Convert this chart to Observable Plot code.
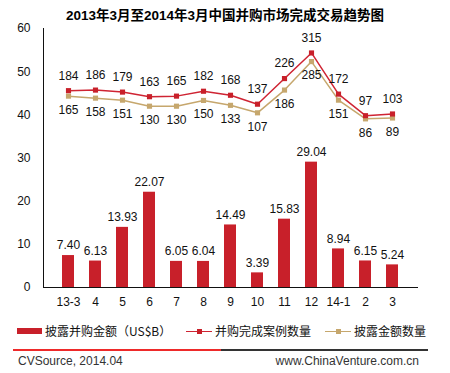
<!DOCTYPE html>
<html>
<head>
<meta charset="utf-8">
<script src="https://cdn.jsdelivr.net/npm/d3@7"></script>
<script src="https://cdn.jsdelivr.net/npm/@observablehq/plot@0.6"></script>
<style>
  html, body { margin: 0; padding: 0; background: #fff; }
  #wrap { position: relative; width: 450px; height: 373px; overflow: hidden; font-family: "Liberation Sans", Arial, "Noto Sans CJK SC", sans-serif; }
  .abs { position: absolute; white-space: nowrap; line-height: 1; }
  #title { left: 0; width: 450px; text-align: center; top: 9px; font-family: "Liberation Sans", "Noto Sans CJK SC", sans-serif; font-weight: bold; font-size: 13.5px; color: #000; }
  #chart { position: absolute; left: 0; top: 22px; }
  .leg { font-family: "Noto Sans CJK SC", sans-serif; font-size: 12px; color: #111; top: 325px; }
</style>
</head>
<body>
<div id="wrap">
  <div id="title" class="abs">2013年3月至2014年3月中国并购市场完成交易趋势图</div>
  <div id="chart"></div>
  <div id="legend"></div>
  <div id="footer"></div>
</div>
<script>
// ---- data ----
const months = ["13-3", "4", "5", "6", "7", "8", "9", "10", "11", "12", "14-1", "2", "3"];
const amounts = [7.40, 6.13, 13.93, 22.07, 6.05, 6.04, 14.49, 3.39, 15.83, 29.04, 8.94, 6.15, 5.24];
const dealCounts = [184, 186, 179, 163, 165, 182, 168, 137, 226, 315, 172, 97, 103];
const disclosedCounts = [165, 158, 151, 130, 130, 150, 133, 107, 186, 285, 151, 86, 89];
const yTicks = [0, 10, 20, 30, 40, 50, 60];
const primaryDomain = [0, 60];
const secondaryDomain = [-500, 400]; // hidden secondary axis for the two count series
const seriesNames = ["披露并购金额（US$B）", "并购完成案例数量", "披露金额数量"];

const BAR = "#C8202A", RED = "#CF2433", TAN = "#C6A76D";

const data = months.map((m, i) => ({month: m, amount: amounts[i], deals: dealCounts[i], disclosed: disclosedCounts[i]}));
const sec = d3.scaleLinear(secondaryDomain, primaryDomain);

const chart = Plot.plot({
  width: 450,
  height: 290,
  marginTop: 6,
  marginLeft: 43,
  marginRight: 33,
  marginBottom: 25,
  style: {fontFamily: "'Liberation Sans', Arial, sans-serif", fontSize: "12px", color: "#111", background: "transparent", overflow: "visible"},
  x: {domain: months, padding: 0.57, label: null, tickSize: 0, tickPadding: 10, line: true},
  y: {domain: primaryDomain, ticks: yTicks, label: null, tickSize: 0, tickPadding: 13, line: true},
  marks: [
    Plot.barY(data, {x: "month", y: "amount", fill: BAR}),
    Plot.text(data, {x: "month", y: "amount", text: d => d.amount.toFixed(2), dy: -10, fontSize: 12, fill: "#111"}),
    Plot.line(data, {x: "month", y: d => sec(d.disclosed), stroke: TAN, strokeWidth: 1.5}),
    Plot.line(data, {x: "month", y: d => sec(d.deals), stroke: RED, strokeWidth: 1.5}),
    Plot.dot(data, {x: "month", y: d => sec(d.disclosed), symbol: "square", r: 2.9, fill: TAN}),
    Plot.dot(data, {x: "month", y: d => sec(d.deals), symbol: "square", r: 2.9, fill: "#C8202A"}),
    Plot.text(data, {x: "month", y: d => sec(d.deals), text: d => String(d.deals), dy: -15, fontSize: 12, fill: "#111"}),
    Plot.text(data, {x: "month", y: d => sec(d.disclosed), text: d => String(d.disclosed), dy: 14, fontSize: 12, fill: "#111"})
  ]
});
document.getElementById("chart").appendChild(chart);

// ---- legend ----
const legend = document.getElementById("legend");
legend.innerHTML = `
  <div class="abs" style="left:17px;top:328px;width:25px;height:6px;background:${BAR}"></div>
  <div class="abs leg" style="left:45px">${seriesNames[0]}</div>
  <div class="abs" style="left:186px;top:330.5px;width:26px;height:1px;background:${RED}"></div>
  <div class="abs" style="left:196.5px;top:328.5px;width:5px;height:5px;background:#C8202A"></div>
  <div class="abs leg" style="left:215px">${seriesNames[1]}</div>
  <div class="abs" style="left:325px;top:330.5px;width:26px;height:1px;background:${TAN}"></div>
  <div class="abs" style="left:335.5px;top:328.5px;width:5px;height:5px;background:${TAN}"></div>
  <div class="abs leg" style="left:354px">${seriesNames[2]}</div>
`;

// ---- footer ----
const footer = document.getElementById("footer");
footer.innerHTML = `
  <div class="abs" style="left:13px;top:349px;width:208px;height:2px;background:#EE2A2A"></div>
  <div class="abs" style="left:221px;top:349px;width:207px;height:2px;background:#333"></div>
  <div class="abs" style="left:18px;top:355px;font-size:12px;color:#333;font-family:'Liberation Sans',Arial,sans-serif">CVSource, 2014.04</div>
  <div class="abs" style="right:31px;top:355px;font-size:12px;color:#333;font-family:'Liberation Sans',Arial,sans-serif">www.ChinaVenture.com.cn</div>
`;
</script>
</body>
</html>
